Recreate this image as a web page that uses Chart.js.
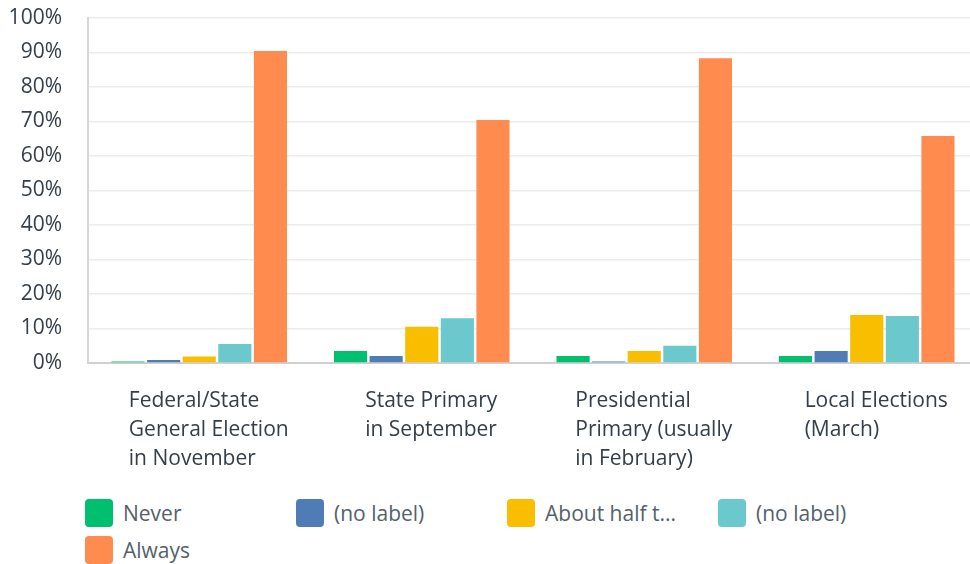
<!DOCTYPE html>
<html>
<head>
<meta charset="utf-8">
<script src="https://cdn.jsdelivr.net/npm/chart.js@4"></script>
<style>
  html, body { margin: 0; padding: 0; background: #fff; overflow: hidden; width: 970px; height: 564px; }
  #wrap { position: absolute; left: 0; top: 0; width: 980px; height: 480px; }
  #legend { position: absolute; left: 85px; top: 499px; width: 880px; display: flex; flex-wrap: wrap; font-family: "Open Sans", sans-serif; font-size: 21px; color: #555f6b; }
  .item { width: 211px; height: 37px; display: flex; align-items: flex-start; }
  .box { width: 28px; height: 28px; border-radius: 4px; margin-right: 10px; flex: none; }
  .lbl { line-height: 28px; white-space: nowrap; }
</style>
</head>
<body>
<div id="wrap"><canvas id="c" width="980" height="480"></canvas></div>
<div id="legend"></div>
<script>
const categories = [
  ["Federal/State", "General Election", "in November"],
  ["State Primary", "in September"],
  ["Presidential", "Primary (usually", "in February)"],
  ["Local Elections", "(March)"]
];
const seriesNames = ["Never", "(no label)", "About half t...", "(no label)", "Always"];
const seriesColors = ["#00bf6f", "#507cb6", "#f9be00", "#6bc8cd", "#ff8b4f"];
const never = [0.4, 3.5, 2.0, 2.0];
const noLabelA = [0.9, 2.0, 0.4, 3.5];
const aboutHalf = [1.9, 10.5, 3.5, 13.9];
const noLabelB = [5.5, 13.0, 5.0, 13.6];
const always = [90.4, 70.4, 88.3, 65.8];
const yTicks = [0, 10, 20, 30, 40, 50, 60, 70, 80, 90, 100];

const seriesValues = [never, noLabelA, aboutHalf, noLabelB, always];
const FONT = '"Open Sans", sans-serif';

const xLabelPlugin = {
  id: 'xLabels',
  afterDraw(chart) {
    const ctx = chart.ctx;
    const xs = chart.scales.x;
    const top = chart.chartArea.bottom + 38;
    ctx.save();
    ctx.font = '21px ' + FONT;
    ctx.fillStyle = '#333e48';
    ctx.textAlign = 'left';
    ctx.textBaseline = 'middle';
    categories.forEach((lines, i) => {
      const cx = xs.getPixelForValue(i) + 9.5;
      const w = Math.max(...lines.map(l => ctx.measureText(l).width));
      const left = cx - w / 2;
      lines.forEach((l, k) => ctx.fillText(l, left, top + k * 29));
    });
    ctx.restore();
  }
};

new Chart(document.getElementById('c'), {
  type: 'bar',
  data: {
    labels: categories.map(c => c.join(' ')),
    datasets: seriesNames.map((n, i) => ({
      label: n,
      data: seriesValues[i],
      backgroundColor: seriesColors[i],
      borderWidth: 0,
      categoryPercentage: 0.8,
      barPercentage: 0.93
    }))
  },
  options: {
    responsive: false,
    animation: false,
    devicePixelRatio: 1,
    layout: { padding: { top: 18, right: 2, bottom: 117, left: 0 } },
    plugins: { legend: { display: false }, tooltip: { enabled: false } },
    scales: {
      x: {
        grid: { display: false, drawTicks: false },
        border: { color: '#d0d0d0', width: 2 },
        ticks: { display: false }
      },
      y: {
        min: 0, max: 100,
        afterFit(s) { s.width = 88; s.paddingTop = 0; s.paddingBottom = 0; },
        afterBuildTicks(s) { s.ticks = yTicks.map(v => ({ value: v })); },
        grid: { color: '#ececec', lineWidth: 1.5, drawTicks: false },
        border: { color: '#d6d6d6', width: 2 },
        ticks: {
          padding: 26,
          color: '#333e48',
          font: { family: FONT, size: 21 },
          callback: v => v + '%'
        }
      }
    }
  },
  plugins: [xLabelPlugin]
});

const legend = document.getElementById('legend');
seriesNames.forEach((n, i) => {
  const it = document.createElement('div');
  it.className = 'item';
  const b = document.createElement('div');
  b.className = 'box';
  b.style.background = seriesColors[i];
  const t = document.createElement('span');
  t.className = 'lbl';
  t.textContent = n;
  it.appendChild(b); it.appendChild(t);
  legend.appendChild(it);
});
</script>
</body>
</html>
